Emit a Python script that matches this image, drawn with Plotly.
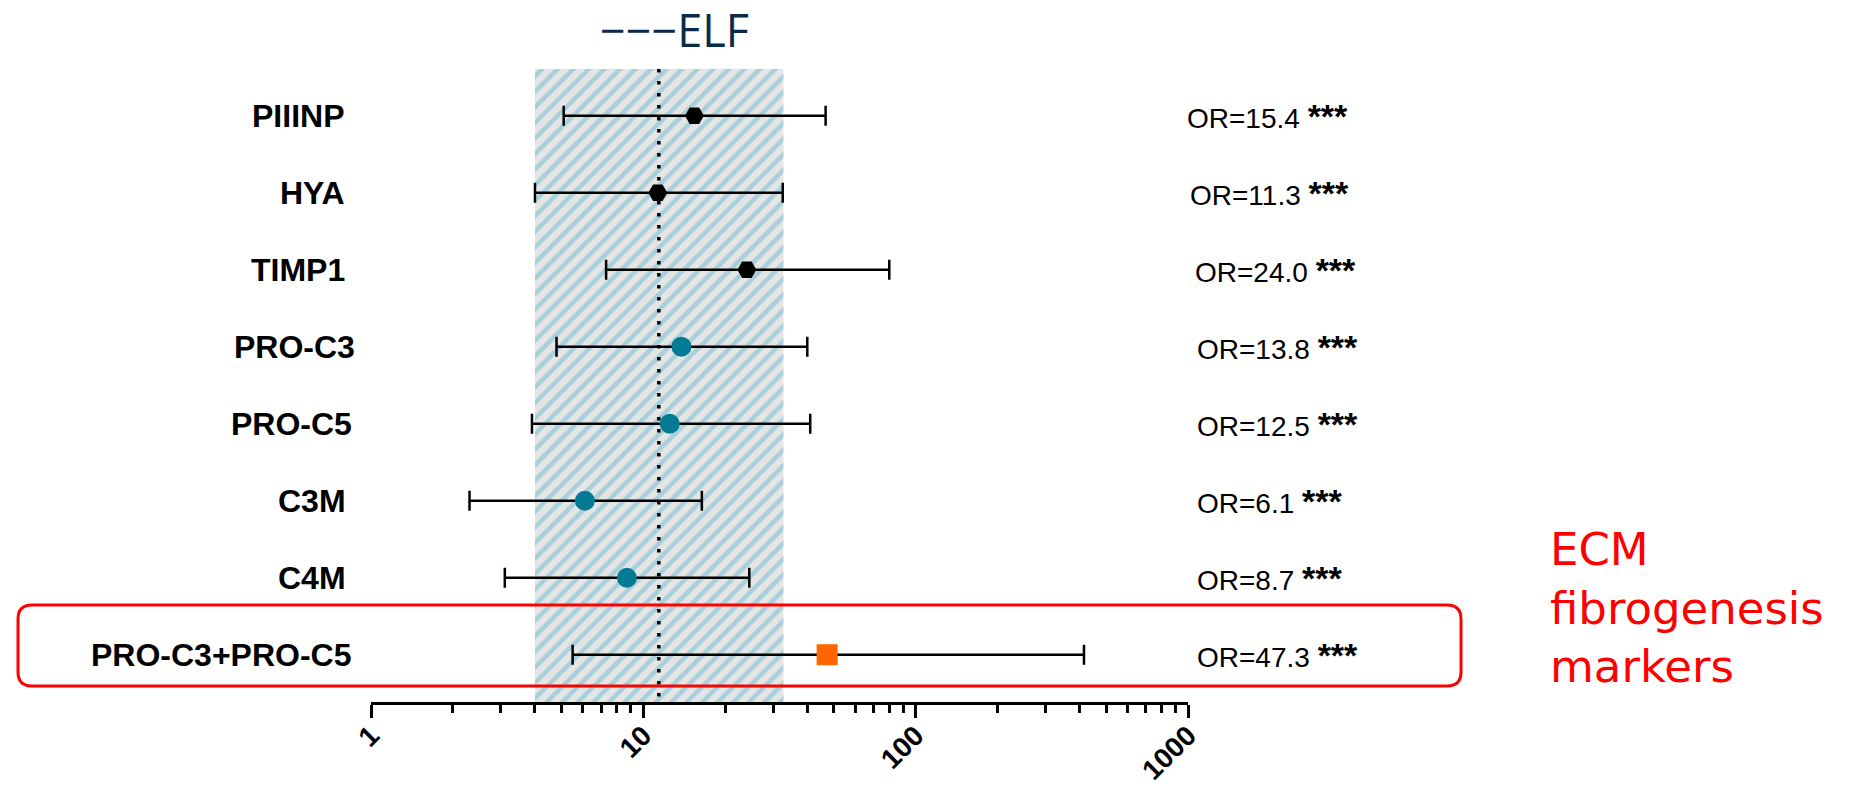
import plotly.graph_objects as go

# ---- data -----------------------------------------------------------------
markers = ["PIIINP", "HYA", "TIMP1", "PRO-C3", "PRO-C5", "C3M", "C4M", "PRO-C3+PRO-C5"]
odds_ratio = [15.4, 11.3, 24.0, 13.8, 12.5, 6.1, 8.7, 47.3]
ci_low = [5.1, 4.0, 7.3, 4.8, 3.9, 2.3, 3.1, 5.5]
ci_high = [46.7, 32.5, 80.0, 40.0, 41.0, 16.4, 24.5, 415.0]
significance = ["***", "***", "***", "***", "***", "***", "***", "***"]
marker_group = ["elf", "elf", "elf", "ecm", "ecm", "ecm", "ecm", "combo"]

elf_or = 11.4
elf_ci = [4.0, 32.7]

x_ticks = [1, 10, 100, 1000]
x_tick_text = ["1", "10", "100", "1000"]
x_minor_ticks = [m * d for d in (1, 10, 100) for m in range(2, 10)]

# ---- styling --------------------------------------------------------------
group_style = {
    "elf": dict(symbol="hexagon2", color="#000000", size=19),
    "ecm": dict(symbol="circle", color="#047b94", size=20),
    "combo": dict(symbol="square", color="#ff6600", size=21),
}

W, H = 1870, 786
PL, PR, PT, PB = 371, 1188, 69, 702          # plot-area edges in pixels
Y_TOP, Y_BOTTOM = -0.606, 7.614              # row-index range shown

label_right_px = [346, 347, 347, 357, 354, 348, 348, 354]
or_label_px = [1185, 1188, 1193, 1195, 1195, 1195, 1195, 1195]


def px_x(px):
    return (px - PL) / (PR - PL)


def px_y(py):
    return (PB - py) / (PB - PT)


fig = go.Figure()

# hatched ELF confidence band
fig.add_trace(go.Scatter(
    x=[elf_ci[0], elf_ci[1], elf_ci[1], elf_ci[0], elf_ci[0]],
    y=[Y_TOP, Y_TOP, Y_BOTTOM, Y_BOTTOM, Y_TOP],
    mode="lines", fill="toself", line=dict(width=0),
    fillcolor="rgba(0,0,0,0)",
    fillpattern=dict(shape="/", bgcolor="#e5e5e5", fgcolor="#6cbcd0",
                     size=11, solidity=0.42),
    hoverinfo="skip",
))

# dotted reference line at the ELF odds ratio
fig.add_trace(go.Scatter(
    x=[elf_or, elf_or], y=[Y_TOP, Y_BOTTOM], mode="lines",
    line=dict(color="black", width=3.5, dash="3.5px,8.5px"),
    hoverinfo="skip",
))

# odds ratios with 95% CI, one trace per marker group
for grp, st in group_style.items():
    idx = [i for i, g in enumerate(marker_group) if g == grp]
    fig.add_trace(go.Scatter(
        x=[odds_ratio[i] for i in idx],
        y=idx,
        mode="markers",
        marker=dict(symbol=st["symbol"], color=st["color"], size=st["size"],
                    line=dict(width=0)),
        error_x=dict(type="data", symmetric=False,
                     array=[ci_high[i] - odds_ratio[i] for i in idx],
                     arrayminus=[odds_ratio[i] - ci_low[i] for i in idx],
                     color="black", thickness=2.5, width=10),
        text=[markers[i] for i in idx],
        hovertemplate="%{text}: OR=%{x}<extra></extra>",
    ))

annotations = []
for i, name in enumerate(markers):
    annotations.append(dict(
        x=px_x(label_right_px[i]), xref="paper", y=i, yref="y",
        text=f"<b>{name}</b>", showarrow=False, xanchor="right", yanchor="middle",
        font=dict(family="Liberation Sans, Arial", size=32, color="black"),
    ))
    annotations.append(dict(
        x=px_x(or_label_px[i]), xref="paper", y=i, yref="y",
        text=(f"OR={odds_ratio[i]:.1f} "
              f"<span style='font-size:34px'><b>{significance[i]}</b></span>"),
        showarrow=False, xanchor="left", yanchor="middle",
        font=dict(family="Liberation Sans, Arial", size=28, color="black"),
    ))

annotations.append(dict(
    x=px_x(674), xref="paper", y=px_y(30), yref="paper",
    text="−−−ELF", showarrow=False, xanchor="center", yanchor="middle",
    borderpad=0,
    font=dict(family="Open Sans", size=45, color="#0b2a4a"),
))
annotations.append(dict(
    x=px_x(1548), xref="paper", y=px_y(608), yref="paper",
    text="ECM<br>fibrogenesis<br>markers", showarrow=False,
    xanchor="left", yanchor="middle", align="left",
    font=dict(family="DejaVu Sans", size=45, color="#ff0000"),
))

# rounded red frame around the combined marker row
x0, x1 = px_x(18), px_x(1461)
y0, y1 = px_y(686), px_y(605)
rx, ry = 14 / (PR - PL), 14 / (PB - PT)
frame = (f"M {x0 + rx},{y1} L {x1 - rx},{y1} Q {x1},{y1} {x1},{y1 - ry} "
         f"L {x1},{y0 + ry} Q {x1},{y0} {x1 - rx},{y0} L {x0 + rx},{y0} "
         f"Q {x0},{y0} {x0},{y0 + ry} L {x0},{y1 - ry} Q {x0},{y1} {x0 + rx},{y1} Z")

fig.update_layout(
    width=W, height=H,
    margin=dict(l=PL, r=W - PR, t=PT, b=H - PB, pad=0, autoexpand=False),
    plot_bgcolor="white", paper_bgcolor="white",
    showlegend=False,
    annotations=annotations,
    shapes=[dict(type="path", path=frame, xref="paper", yref="paper",
                 line=dict(color="#ff0000", width=3))],
    xaxis=dict(
        type="log", range=[0, 3], automargin=False,
        showline=True, linecolor="black", linewidth=3,
        ticks="outside", ticklen=13, tickwidth=3, tickcolor="black",
        tickvals=x_ticks, ticktext=[f"<b>{t}</b>" for t in x_tick_text],
        tickangle=-45, ticklabelstandoff=-10,
        tickfont=dict(family="Liberation Sans, Arial", size=28, color="black"),
        minor=dict(tickvals=x_minor_ticks, ticks="outside", ticklen=8,
                   tickwidth=3, tickcolor="black", showgrid=False),
        showgrid=False, zeroline=False,
    ),
    yaxis=dict(range=[Y_BOTTOM, Y_TOP], visible=False, showgrid=False,
               zeroline=False, automargin=False),
)

fig.write_html("out.html")
